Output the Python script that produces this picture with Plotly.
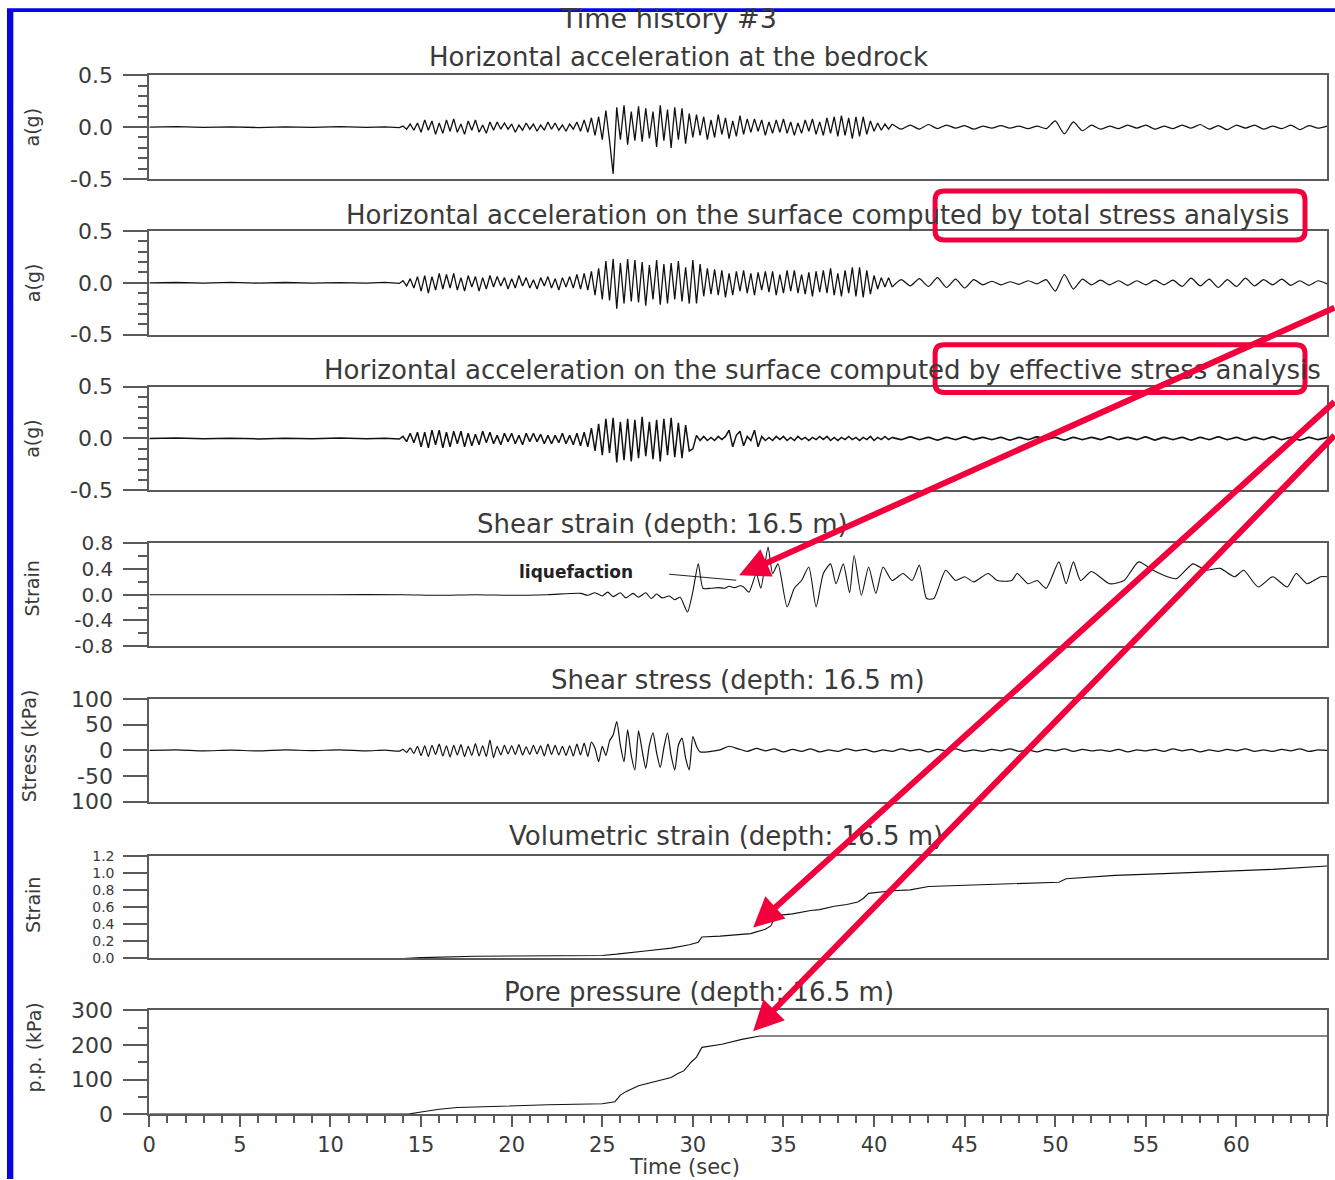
import plotly.graph_objects as go

# ---------------------------------------------------------------------------
# Page geometry.  The page keeps the browser's 8px body margin, and the
# photographed area maps page pixels to picture pixels roughly as
#   picture = A * page + B   (measured on earlier renders).
# All positions below are given in picture (reference) pixels and converted.
# ---------------------------------------------------------------------------
BODY_M = 8
AXS, BXS = 0.995, -2.3
AYS, BYS = 0.981, 2.8
W = int(round((1335 - BXS) / AXS)) - BODY_M
H = int(round((1180 - BYS) / AYS)) - BODY_M


def grid(start, stop, step):
    n = int(round((stop - start) / step)) + 1
    return [round(start + i * step, 2) for i in range(n)]


# ---------------- time bases (seconds) ----------------
T_PRE = [0, 1.5, 3, 4.5, 6, 7.5, 9, 10.5, 12, 13, 13.8]
T_ACT = grid(14.0, 41.0, 0.2)
T_TAIL = grid(41.5, 65.0, 0.5)
T_S_ACT = grid(14.0, 30.4, 0.2)
T_S_TAIL = grid(31.0, 65.0, 0.5)

# ---------------- horizontal acceleration at the bedrock (g) ----------------
ACC_BED_PRE = [0, .004, -.003, .003, -.004, .002, -.003, .004, -.002, .003, -.005]
ACC_BED_ACT = [
    .01, -.02, .03, -.03, .04,
    -.05, .07, -.03, .06, -.07, .04, -.06, .07, -.04, .08,
    -.05, .03, -.07, .06, -.03, .07, -.05, .02, -.06, .05,
    -.03, .05, -.02, .04, -.02, .03, -.05, .02, -.03, .04,
    -.02, .03, -.04, .02, -.03, .05, -.02, .04, -.03, .02,
    -.04, .03, -.02, .05, -.04, .07, -.05, .09, -.08, .10,
    -.12, .16, -.13, -.45, .19, -.12, .21, -.17, .15, -.13,
    .20, -.14, .18, -.11, .15, -.19, .21, -.13, .17, -.20,
    .19, -.12, .18, -.16, .13, -.10,
    .12, -.08, .10, -.12, .07, -.10, .12, -.07, .09, -.11, .06, -.09, .11, -.07, .08,
    -.05, .08, -.04, .07, -.08, .05, -.06, .07, -.05, .08,
    -.06, .05, -.08, .04, -.06, .07, -.04, .08, -.07, .05,
    -.08, .09, -.06, .10, -.09, .11, -.08, .09, -.11, .10,
    -.09, .10, -.07, .06, -.04, .04, -.03, .03, -.02, .03,
]
ACC_BED_TAIL = [
    -.02, .02, -.02, .025, -.015, .02, -.01, .015, -.02, .01,
    -.01, .015, -.01, .01, -.015, .01, -.015, .06, -.065, .05,
    -.035, .02, -.02, .01, -.015, .02, -.01, .02, -.02, .01,
    -.015, .02, -.01, .025, -.02, .015, -.025, .02, -.01, .02,
    -.02, .01, -.015, .02, -.025, .015, -.01, .01,
]

# ---------------- surface acceleration, total stress analysis (g) ----------------
ACC_TOT_PRE = [0, .003, -.004, .004, -.003, .003, -.004, .002, -.003, .004, -.006]
ACC_TOT_ACT = [
    .02, -.03, .04, -.05, .06,
    -.08, .07, -.10, .06, -.07, .09, -.06, .08, -.05, .09,
    -.07, .05, -.08, .07, -.04, .06, -.08, .05, -.06, .07,
    -.04, .06, -.03, .05, -.06, .04, -.05, .07, -.03, .05,
    -.05, .03, -.06, .05, -.03, .06, -.05, .04, -.07, .05,
    -.04, .06, -.05, .08, -.06, .09, -.07, .11, -.12, .14,
    -.16, .21, -.17, .23, -.25, .19, -.20, .23, -.18, .22,
    -.19, .20, -.22, .17, -.16, .22, -.21, .18, -.20, .19,
    -.16, .21, -.18, .15, -.20, .22,
    -.20, .18, -.13, .14, -.11, .13, -.12, .12, -.14, .09, -.12, .11, -.08, .12, -.10,
    .09, -.12, .10, -.07, .11, -.09, .11, -.12, .08, -.10,
    .12, -.08, .12, -.10, .08, -.11, .10, -.13, .11, -.09,
    .12, -.10, .14, -.12, .09, -.13, .12, -.10, .15, -.13,
    .15, -.14, .12, -.11, .07, -.06, .05, -.04, .05, -.04,
]
ACC_TOT_TAIL = [
    .03, -.03, .04, -.035, .05, -.045, .035, -.05, .03, -.02,
    .015, -.02, .01, -.015, .02, -.01, .03, -.08, .08, -.06,
    .035, -.02, .025, -.02, .02, -.025, .02, -.02, .025, -.02,
    .025, -.035, .045, -.03, .035, -.045, .03, -.035, .045, -.03,
    .03, -.02, .035, -.025, .02, -.025, .02, -.01,
]

# ---------------- surface acceleration, effective stress analysis (g) ----------------
ACC_EFF_PRE = [0, .004, -.003, .002, -.004, .003, -.002, .004, -.003, .003, -.005]
ACC_EFF_ACT = [
    .02, -.03, .05, -.04, .06,
    -.08, .06, -.09, .08, -.06, .08, -.09, .06, -.08, .07,
    -.05, .07, -.08, .05, -.07, .04, -.06, .07, -.04, .06,
    -.05, .03, -.06, .05, -.03, .05, -.05, .03, -.06, .05,
    -.03, .05, -.03, .04, -.05, .03, -.05, .03, -.04, .05,
    -.05, .03, -.06, .05, -.07, .06, -.08, .10, -.12, .14,
    -.16, .19, -.14, .20, -.23, .16, -.21, .19, -.22, .18,
    -.19, .21, -.17, .16, -.20, .18, -.22, .19, -.16, .20,
    -.18, .15, -.19, .13, -.12, -.10,
    .03, -.02, .02, -.02, .01, -.02, .02, -.01, .02, .08, -.08, .03, .07, -.07, .02,
    -.02, .08, -.08, .02, -.02, .01, -.02, .02, -.01, .02,
    -.02, .01, -.02, .02, -.01, .01, -.02, .01, -.01, .02,
    -.01, .02, -.02, .01, -.02, .01, -.01, .02, -.01, .01,
    -.02, .01, -.01, .02, -.02, .01, -.01, .02, -.01, .01,
]
ACC_EFF_TAIL = [
    -.01, .015, -.01, .01, -.015, .01, -.01, .015, -.01, .01,
    -.01, .01, -.015, .01, -.01, .015, -.01, .01, -.015, .01,
    -.01, .01, -.01, .015, -.01, .01, -.01, .015, -.015, .01,
    -.01, .01, -.015, .01, -.01, .015, -.01, .01, -.015, .01,
    -.01, .015, -.01, .01, -.015, .01, -.01, .01,
]

# ---------------- shear strain at 16.5 m (%) ----------------
SS_T = [0, 5, 10, 14, 16, 18, 20, 22, 23.8, 24.2, 24.6, 25.0, 25.3, 25.6, 26.0, 26.3, 26.7,
        27.0, 27.4, 27.7, 28.0, 28.3, 28.7, 29.0, 29.3, 29.7, 30.0, 30.3, 30.56, 31.0, 31.4,
        31.76, 32.0, 32.3, 32.6, 32.8, 33.1, 33.5, 33.75, 34.15, 34.4, 34.7, 35.2, 35.6, 36.0,
        36.4, 36.8, 37.2, 37.6, 37.9, 38.3, 38.65, 38.9, 39.3, 39.7, 40.1, 40.5, 41.0, 41.6,
        42.1, 42.5, 42.9, 43.3, 43.95, 44.5, 45.0, 45.5, 46.3, 46.8, 47.6, 47.9, 48.5, 49.0,
        49.5, 50.2, 50.6, 51.0, 51.4, 52.0, 53.0, 53.8, 54.6, 55.4, 56.2, 56.7, 57.6, 58.3,
        59.1, 59.9, 60.4, 61.2, 62.0, 62.8, 63.3, 63.9, 64.65, 65]
SS_V = [0, 0, 0, 0, -.01, 0, -.01, 0, .02, -.01, .03, -.02, .04, -.03, .03, -.05, .02,
        -.04, .03, -.06, .01, -.05, -.02, -.08, -.04, -.27, .05, .48, .10, .10, .11,
        .10, .13, .11, .14, .12, .04, .33, .10, .74, .33, .48, -.19, .10, .22,
        .43, -.19, .33, .48, .17, .48, .03, .61, -.01, .43, .02, .43, .22, .33,
        .22, .46, -.06, -.06, .38, .22, .28, .20, .33, .22, .22, .33, .17, .22,
        .10, .51, .17, .51, .22, .36, .17, .22, .51, .38, .28, .25, .48, .38,
        .41, .28, .38, .12, .28, .12, .33, .17, .28, .28]

# ---------------- shear stress at 16.5 m (kPa) ----------------
STRESS_PRE = [0, 1, -1, .5, -1, 1, -.5, 1, -1, .5, -1.5]
STRESS_ACT = [
    2, -4, 5, -6, 8,
    -10, 9, -12, 10, -8, 12, -11, 9, -13, 10,
    -9, 11, -12, 8, -10, 13, -11, 9, -12, 20,
    -14, 8, -9, 10, -7, 9, -8, 11, -9, 7,
    -8, 10, -7, 9, -11, 12, -8, 10, -9, 8,
    -10, 9, -11, 12, -9, 14, -12, 16, 4, -22,
    8, -10, 18, 30, 56, 10, -22, 40, -10, -38,
    38, 0, -35, 10, 34, -5, -33, 5, 34, -10,
    -38, 10, 24, -15, -38, 27, 8, -3,
]
STRESS_TAIL = [
    -2, 1, 8, 3, -2, 4, -1, 3, -3, 2,
    -2, 3, -3, 1, -2, 3, -1, 2, -3, 1,
    -2, 3, -1, 2, -3, 2, -1, 3, -2, 1,
    -2, 2, -1, 3, -2, 1, -3, 2, -1, 3,
    -2, 2, -1, 1, -2, 2, -3, 1, -1, 2,
    -2, 3, -1, 2, -3, 1, -2, 2, -1, 3,
    -2, 1, -2, 2, -1, 3, -2, 1, 0,
]

# ---------------- volumetric strain at 16.5 m (%) ----------------
VS_T = [0, 14, 15, 16.5, 18, 20, 22, 25, 25.8, 26.5, 27.5, 28.8, 29.8, 30.3, 30.5, 31.5, 32.5,
        33.2, 33.5, 34.0, 34.3, 34.6, 35.5, 36.5, 37.0, 37.8, 38.5, 39.1, 39.4, 39.7, 41, 42,
        43, 45.6, 48, 50.2, 50.6, 53.3, 56, 58.5, 62, 65]
VS_V = [0, 0, .01, .02, .025, .028, .03, .035, .05, .07, .09, .12, .16, .19, .25, .26, .28,
        .29, .31, .34, .38, .50, .52, .56, .57, .61, .63, .66, .70, .76, .79, .80,
        .84, .86, .87, .89, .93, .97, .99, 1.01, 1.04, 1.08]

# ---------------- pore pressure at 16.5 m (kPa) ----------------
PP_T = [0, 14.3, 15, 16, 17, 19, 22, 25, 25.7, 26, 26.3, 27, 28, 28.8, 29.2, 29.5, 29.9,
        30.2, 30.5, 31.6, 32.7, 33.7, 65]
PP_V = [0, 0, 6, 14, 19, 23, 27, 30, 36, 55, 65, 82, 95, 106, 118, 125, 150,
        165, 193, 202, 216, 226, 226]

# ---------------- texts ----------------
MAIN_TITLE = "Time history #3"
PANEL_TITLES = [
    "Horizontal acceleration at the bedrock",
    "Horizontal acceleration on the surface computed by total stress analysis",
    "Horizontal acceleration on the surface computed by effective stress analysis",
    "Shear strain (depth: 16.5 m)",
    "Shear stress (depth: 16.5 m)",
    "Volumetric strain (depth: 16.5 m)",
    "Pore pressure (depth: 16.5 m)",
]
Y_TITLES = ["a(g)", "a(g)", "a(g)", "Strain", "Stress (kPa)", "Strain", "p.p. (kPa)"]
X_TITLE = "Time (sec)"
ACC_TICKVALS = [-0.5, 0, 0.5]
ACC_TICKTEXT = ["-0.5", "0.0", "0.5"]
SS_TICKVALS = [-0.8, -0.4, 0, 0.4, 0.8]
SS_TICKTEXT = ["-0.8", "-0.4", "0.0", "0.4", "0.8"]
STRESS_TICKVALS = [-100, -50, 0, 50, 100]
STRESS_TICKTEXT = ["100", "-50", "0", "50", "100"]
VS_TICKVALS = [0, 0.2, 0.4, 0.6, 0.8, 1.0, 1.2]
VS_TICKTEXT = ["0.0", "0.2", "0.4", "0.6", "0.8", "1.0", "1.2"]
PP_TICKVALS = [0, 100, 200, 300]
PP_TICKTEXT = ["0", "100", "200", "300"]

assert len(ACC_BED_ACT) == len(T_ACT) == len(ACC_TOT_ACT) == len(ACC_EFF_ACT)
assert len(ACC_BED_TAIL) == len(T_TAIL) == len(ACC_TOT_TAIL) == len(ACC_EFF_TAIL)
assert len(STRESS_ACT) == len(T_S_ACT) and len(STRESS_TAIL) == len(T_S_TAIL)
assert len(SS_T) == len(SS_V) and len(VS_T) == len(VS_V) and len(PP_T) == len(PP_V)

# each panel: list of (x, y, line shape, width) pieces
panels = [
    [(T_PRE + T_ACT, ACC_BED_PRE + ACC_BED_ACT, "linear", 1.3),
     (T_ACT[-1:] + T_TAIL, ACC_BED_ACT[-1:] + ACC_BED_TAIL, "spline", 1.2)],
    [(T_PRE + T_ACT, ACC_TOT_PRE + ACC_TOT_ACT, "linear", 1.3),
     (T_ACT[-1:] + T_TAIL, ACC_TOT_ACT[-1:] + ACC_TOT_TAIL, "spline", 1.2)],
    [(T_PRE + T_ACT, ACC_EFF_PRE + ACC_EFF_ACT, "linear", 1.5),
     (T_ACT[-1:] + T_TAIL, ACC_EFF_ACT[-1:] + ACC_EFF_TAIL, "spline", 1.8)],
    [(SS_T, SS_V, "spline", 1.1)],
    [(T_PRE + T_S_ACT + T_S_TAIL, STRESS_PRE + STRESS_ACT + STRESS_TAIL, "spline", 1.2)],
    [(VS_T, VS_V, "linear", 1.1)],
    [(PP_T, PP_V, "linear", 1.1)],
]

# ---------------- layout geometry (reference picture pixels) ----------------
X0, X1 = 148, 1326
BOXES = [(74, 178), (230, 334), (386, 490), (543, 646), (699, 802), (856, 959), (1011, 1115)]
YRANGES = [(-0.5, 0.5), (-0.5, 0.5), (-0.5, 0.5), (-0.8, 0.8), (-100, 100), (0, 1.2), (0, 300)]
YTICKS = [
    (ACC_TICKVALS, ACC_TICKTEXT, 0.1, 22),
    (ACC_TICKVALS, ACC_TICKTEXT, 0.1, 22),
    (ACC_TICKVALS, ACC_TICKTEXT, 0.1, 22),
    (SS_TICKVALS, SS_TICKTEXT, 0.2, 20),
    (STRESS_TICKVALS, STRESS_TICKTEXT, None, 22),
    (VS_TICKVALS, VS_TICKTEXT, None, 14),
    (PP_TICKVALS, PP_TICKTEXT, 50, 22),
]
TITLE_POS = [(677, 56), (1290, 214, "right"), (1322, 369, "right"), (661, 524), (737, 680), (725, 836), (698, 993)]
YTITLE_POS = [(31, 126), (31, 282), (31, 438), (31, 588), (28, 746), (31, 905), (33, 1048)]

FONT = "DejaVu Sans"
TXT = "#3a3a3a"
AX = "#5a5a5a"


def px(x):
    return ((x - BXS) / AXS - BODY_M) / W


def py(y):
    return 1 - ((y - BYS) / AYS - BODY_M) / H


fig = go.Figure()
layout = dict(
    width=W, height=H, autosize=False,
    margin=dict(l=0, r=0, t=0, b=0),
    paper_bgcolor="white", plot_bgcolor="white",
    showlegend=False,
    font=dict(family=FONT, color=TXT),
)

for i, (pieces, (top, bot), yr, (tv, tt, minor, tfs)) in enumerate(zip(panels, BOXES, YRANGES, YTICKS)):
    n = i + 1
    xa = "x" if n == 1 else f"x{n}"
    ya = "y" if n == 1 else f"y{n}"
    for xs, ys, shape, lw in pieces:
        line = dict(color="#111111", width=lw, shape=shape)
        if shape == "spline":
            line["smoothing"] = 0.6
        fig.add_trace(go.Scatter(x=xs, y=ys, mode="lines", line=line, xaxis=xa, yaxis=ya,
                                 hoverinfo="skip"))
    last = n == len(panels)
    xaxis = dict(
        domain=[px(X0), px(X1)], range=[0, 65], anchor=ya,
        showline=True, mirror=True, linecolor=AX, linewidth=1.5,
        showgrid=False, zeroline=False, fixedrange=True,
    )
    if last:
        xaxis.update(
            tickmode="linear", tick0=0, dtick=5, ticks="outside", ticklen=11, tickwidth=1.5,
            tickcolor=AX, showticklabels=True, tickfont=dict(family=FONT, size=21, color=TXT),
            minor=dict(ticks="outside", ticklen=7, tickwidth=1.5, tickcolor=AX, dtick=1, tick0=0),
        )
    else:
        xaxis.update(ticks="", showticklabels=False)
    yaxis = dict(
        domain=[py(bot), py(top)], range=list(yr), anchor=xa,
        showline=True, mirror=True, linecolor=AX, linewidth=2,
        showgrid=False, zeroline=False, fixedrange=True,
        tickmode="array", tickvals=tv, ticktext=tt,
        ticks="outside", ticklen=24, tickwidth=1.5, tickcolor=AX,
        tickfont=dict(family=FONT, size=tfs, color=TXT), ticklabelstandoff=6,
    )
    if minor:
        yaxis["minor"] = dict(ticks="outside", ticklen=9, tickwidth=1.5, tickcolor=AX,
                              dtick=minor, tick0=yr[0])
    layout["xaxis" if n == 1 else f"xaxis{n}"] = xaxis
    layout["yaxis" if n == 1 else f"yaxis{n}"] = yaxis

annotations = []
annotations.append(dict(text=MAIN_TITLE, x=px(667), y=py(17), xref="paper", yref="paper",
                        showarrow=False, xanchor="center", yanchor="middle",
                        font=dict(family=FONT, size=27, color=TXT)))
for title, pos in zip(PANEL_TITLES, TITLE_POS):
    anchor = pos[2] if len(pos) > 2 else "center"
    annotations.append(dict(text=title, x=px(pos[0]), y=py(pos[1]), xref="paper", yref="paper",
                            showarrow=False, xanchor=anchor, yanchor="middle",
                            font=dict(family=FONT, size=26, color=TXT)))
for title, (xx, yy) in zip(Y_TITLES, YTITLE_POS):
    annotations.append(dict(text=title, x=px(xx), y=py(yy), xref="paper", yref="paper",
                            showarrow=False, xanchor="center", yanchor="middle", textangle=-90,
                            font=dict(family=FONT, size=19, color=TXT)))
annotations.append(dict(text=X_TITLE, x=px(683), y=py(1168), xref="paper", yref="paper",
                        showarrow=False, xanchor="center", yanchor="middle",
                        font=dict(family=FONT, size=21, color=TXT)))
# liquefaction label
annotations.append(dict(text="<b>liquefaction</b>", x=px(575), y=py(572), xref="paper", yref="paper",
                        showarrow=False, xanchor="center", yanchor="middle",
                        font=dict(family=FONT, size=17, color="#222222")))

RED = "#f2003c"
# red arrows: (head_x, head_y, tail_x, tail_y) in reference pixels
ARROWS = [(738, 575, 1350, 312), (752, 928, 1350, 411), (752, 1032, 1350, 446)]
for hx, hy, tx, ty in ARROWS:
    annotations.append(dict(text="", x=px(hx), y=py(hy), xref="paper", yref="paper",
                            showarrow=True, ax=(tx - hx) / AXS, ay=(ty - hy) / AYS,
                            axref="pixel", ayref="pixel",
                            arrowhead=2, arrowsize=1.0, arrowwidth=6, arrowcolor=RED, standoff=0))
layout["annotations"] = annotations


def rrect(x0, y0, x1, y1, r):
    def P(x, y):
        return f"{px(x):.5f},{py(y):.5f}"
    return (f"M {P(x0 + r, y0)} L {P(x1 - r, y0)} Q {P(x1, y0)} {P(x1, y0 + r)} "
            f"L {P(x1, y1 - r)} Q {P(x1, y1)} {P(x1 - r, y1)} L {P(x0 + r, y1)} "
            f"Q {P(x0, y1)} {P(x0, y1 - r)} L {P(x0, y0 + r)} Q {P(x0, y0)} {P(x0 + r, y0)} Z")


shapes = [
    dict(type="path", path=rrect(934, 190, 1304, 239, 9), xref="paper", yref="paper",
         line=dict(color=RED, width=5), layer="above"),
    dict(type="path", path=rrect(934, 344, 1304, 392, 9), xref="paper", yref="paper",
         line=dict(color=RED, width=5), layer="above"),
    # liquefaction leader line
    dict(type="line", x0=px(668), y0=py(574), x1=px(735), y1=py(580), xref="paper", yref="paper",
         line=dict(color="#222222", width=1)),
    # blue slide frame (parts lying inside the figure)
    dict(type="rect", x0=0, x1=px(12), y0=0, y1=1, xref="paper", yref="paper",
         fillcolor="#0606d8", line=dict(width=0), layer="above"),
    dict(type="rect", x0=0, x1=1, y0=py(7), y1=1, xref="paper", yref="paper",
         fillcolor="#0606e6", line=dict(width=0), layer="above"),
]
layout["shapes"] = shapes

fig.update_layout(**layout)
fig.write_html("out.html", post_script="document.body.style.background='#0606e0';")
